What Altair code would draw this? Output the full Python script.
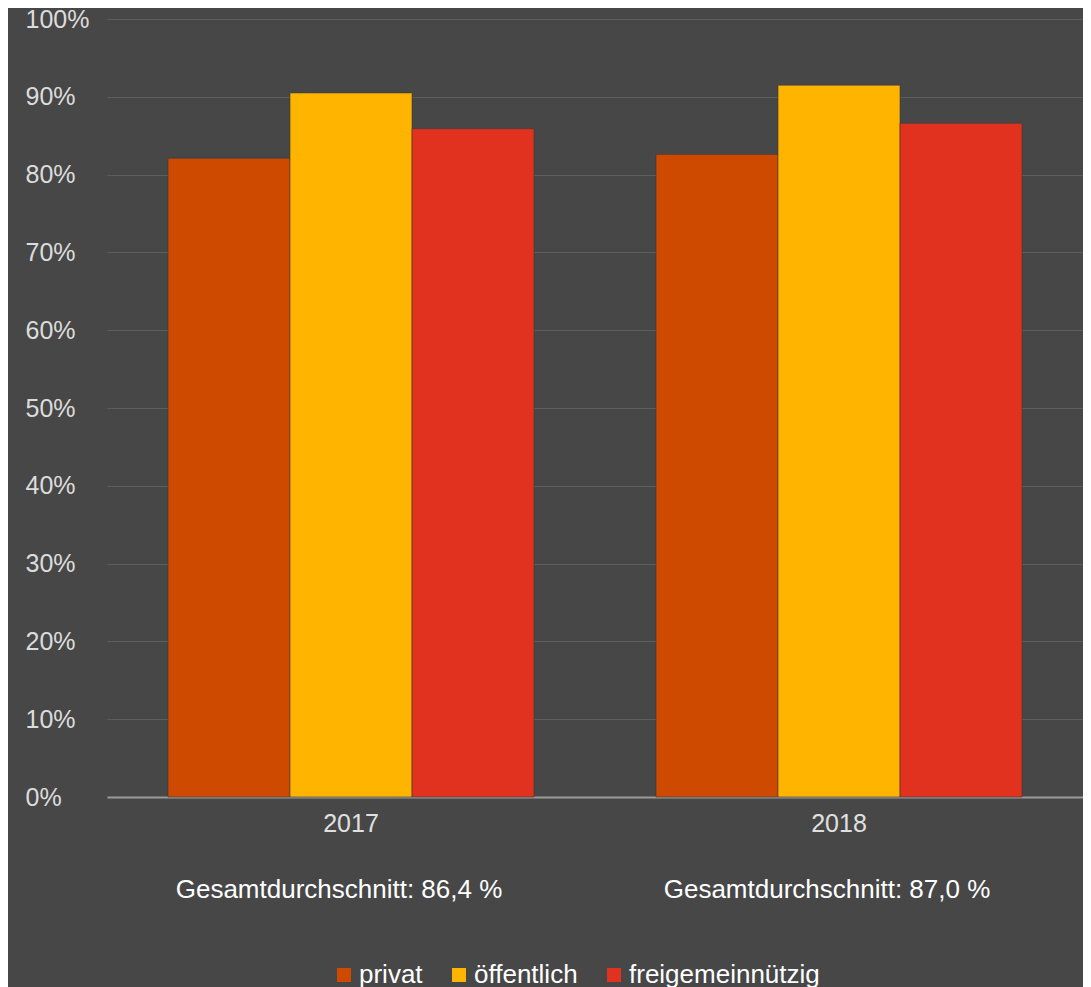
import altair as alt
import pandas as pd

years = ["2017", "2018"]
categories = ["privat", "öffentlich", "freigemeinnützig"]
privat = [82.1, 82.6]
oeffentlich = [90.5, 91.5]
freigemeinnuetzig = [85.9, 86.6]
averages = ["Gesamtdurchschnitt: 86,4 %", "Gesamtdurchschnitt: 87,0 %"]
colors = ["#CD4A00", "#FFB500", "#E0321F"]

rows = []
for i, y in enumerate(years):
    for cat, vals in zip(categories, [privat, oeffentlich, freigemeinnuetzig]):
        rows.append({"Jahr": y, "Kategorie": cat, "Wert": vals[i]})
df = pd.DataFrame(rows)
avg_df = pd.DataFrame({"Jahr": years, "Text": averages})

FONT = "Liberation Sans"
BG = "#474747"

x_enc = alt.X(
    "Jahr:N",
    title=None,
    scale=alt.Scale(paddingInner=0.25, paddingOuter=0.125),
    axis=alt.Axis(
        labelAngle=0, labelFontSize=25, labelColor="#e0e0e0", labelFont=FONT,
        ticks=False, tickSize=0, domainColor="#9a9a9a", domainWidth=2,
        labelPadding=14, grid=False,
    ),
)

bars = alt.Chart(df).mark_bar(stroke="#3a3a3a", strokeWidth=1, strokeOpacity=0.6).encode(
    x=x_enc,
    xOffset=alt.XOffset("Kategorie:N", sort=categories, scale=alt.Scale(paddingInner=0, paddingOuter=0)),
    y=alt.Y(
        "Wert:Q",
        title=None,
        scale=alt.Scale(domain=[0, 100]),
        axis=alt.Axis(
            values=list(range(0, 101, 10)),
            labelExpr="datum.value + '%'",
            labelFontSize=25, labelColor="#dcdcdc", labelFont=FONT,
            labelAlign="left", labelPadding=82, ticks=False, tickSize=0,
            domain=False, gridColor="#5e5e5e", gridWidth=1,
        ),
    ),
    color=alt.Color(
        "Kategorie:N",
        sort=categories,
        scale=alt.Scale(domain=categories, range=colors),
        legend=alt.Legend(
            title=None, orient="none", direction="horizontal",
            legendX=224, legendY=943, padding=0,
            symbolType="square", symbolSize=196, symbolStrokeWidth=0, symbolOpacity=1,
            labelFontSize=26, labelColor="#ffffff", labelFont=FONT,
            labelOffset=2, columnPadding=23, labelLimit=0,
        ),
    ),
)

texts = alt.Chart(avg_df).mark_text(
    fontSize=26, font=FONT, color="#ffffff", dx=-12, baseline="middle", align="center"
).encode(
    x=alt.X("Jahr:N"),
    y=alt.value(871),
    text="Text:N",
)

chart = alt.layer(bars, texts).properties(
    width=976,
    height=778,
    background=BG,
    padding={"left": 99, "top": 11, "right": 0, "bottom": 190},
    autosize=alt.AutoSizeParams(type="none"),
).configure_view(stroke=None)

chart.save("out.html", embed_options={"renderer": "svg", "actions": False})
